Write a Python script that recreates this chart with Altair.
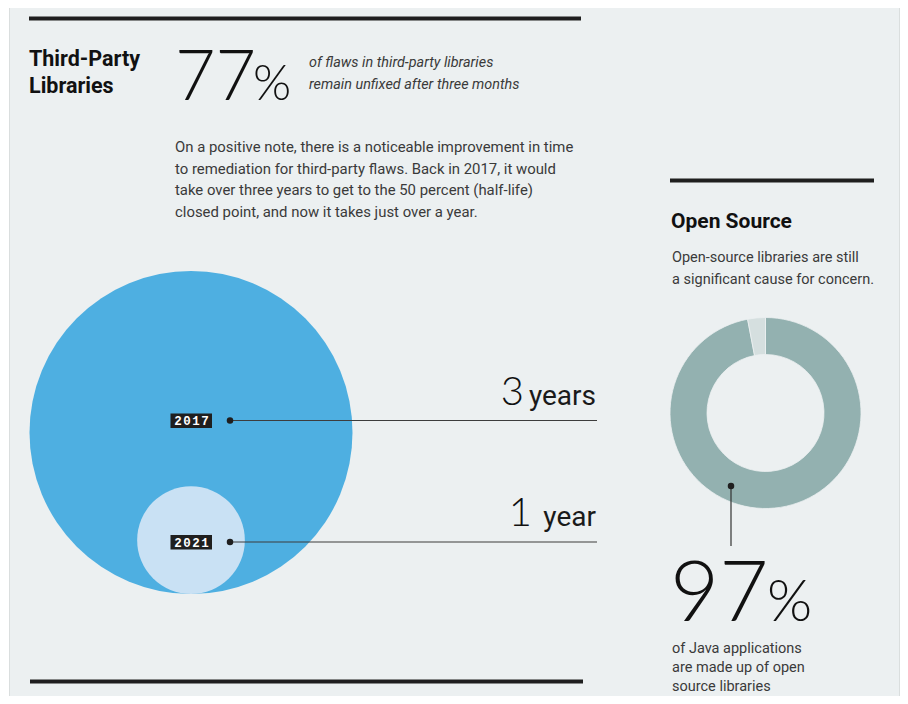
import altair as alt
import pandas as pd

# ---- data ----
years = ["2017", "2021"]
half_life_years = [3, 1]
half_life_numbers = ["3", "1"]
half_life_units = ["years", "year"]
segments = ["Open source", "Other"]
segment_pct = [97, 3]
unfixed_pct = "77"
java_pct = "97"

# ---- layout helpers (page pixel -> chart pixel) ----
M = 8
W, H = 892, 688
def X(v):
    return v - M
def Y(v):
    return v - M

BG = "#ecf0f1"
DARK = "#1f1f1f"
TEXT = "#3a3a3a"
SANS = "Roboto"
LIGHT = "Lato"

def one():
    return pd.DataFrame({"k": [0]})

def txt(s, x, y, size, weight="normal", style="normal", font=SANS, color="#111111",
        align="left", baseline="alphabetic"):
    kw = dict(align=align, baseline=baseline, font=font, fontSize=size,
              fontWeight=weight, fontStyle=style, color=color)
    return alt.Chart(pd.DataFrame({"t": [s]})).mark_text(**kw).encode(
        x=alt.value(X(x)), y=alt.value(Y(y)), text="t:N")

def hbar(x1, x2, y, w=4, color=DARK):
    return alt.Chart(one()).mark_rule(strokeWidth=w, color=color).encode(
        x=alt.value(X(x1)), x2=alt.value(X(x2)), y=alt.value(Y(y)))

def vline(x, y1, y2, w=1.2, color="#333333"):
    return alt.Chart(one()).mark_rule(strokeWidth=w, color=color).encode(
        x=alt.value(X(x)), y=alt.value(Y(y1)), y2=alt.value(Y(y2)))

def dot(x, y, size=40, color=DARK):
    return alt.Chart(one()).mark_circle(size=size, color=color, opacity=1).encode(
        x=alt.value(X(x)), y=alt.value(Y(y)))

def box(x1, x2, y1, y2, color=DARK):
    return alt.Chart(one()).mark_rect(color=color).encode(
        x=alt.value(X(x1)), x2=alt.value(X(x2)), y=alt.value(Y(y1)), y2=alt.value(Y(y2)))

layers = []

# panel background
layers.append(alt.Chart(one()).mark_rect(fill=BG, stroke="#dadede", strokeWidth=1).encode(
    x=alt.value(X(9.5)), x2=alt.value(X(899.5)), y=alt.value(Y(7.5)), y2=alt.value(H + 20)))

# ---- left section text ----
layers.append(hbar(29, 581, 18.5))
layers.append(txt("Third-Party", 29, 66, 21.5, weight="bold"))
layers.append(txt("Libraries", 29, 93, 21.5, weight="bold"))
layers.append(txt(unfixed_pct, 175, 100, 70, weight=300, font=LIGHT))
layers.append(txt("%", 253, 100, 49, weight=300, font=LIGHT))
layers.append(txt("of flaws in third-party libraries", 309, 67, 14.4, style="italic", color=TEXT))
layers.append(txt("remain unfixed after three months", 309, 89, 14.4, style="italic", color=TEXT))
para = [
    "On a positive note, there is a noticeable improvement in time",
    "to remediation for third-party flaws. Back in 2017, it would",
    "take over three years to get to the 50 percent (half-life)",
    "closed point, and now it takes just over a year.",
]
for i, line in enumerate(para):
    layers.append(txt(line, 175, 152 + i * 21.7, 14.9, color=TEXT))

# ---- bubbles: radius proportional to half-life in years ----
bub = pd.DataFrame({"year": years, "half_life": half_life_years})
layers.append(alt.Chart(bub).mark_circle(opacity=1).encode(
    x=alt.value(X(191)),
    y=alt.Y("half_life:Q", scale=alt.Scale(domain=[0, 3], range=[Y(594), Y(432.5)]), axis=None),
    size=alt.Size("half_life:Q", scale=alt.Scale(type="pow", exponent=2, domain=[0, 3], range=[0, 323 ** 2]), legend=None),
    color=alt.Color("year:N", scale=alt.Scale(domain=years, range=["#4eafe1", "#c9e1f4"]), legend=None),
    order=alt.Order("half_life:Q", sort="descending"),
))

# leader lines and labels
label_y = [420.5, 542]
for i, yr in enumerate(years):
    ly = label_y[i]
    layers.append(alt.Chart(one()).mark_rule(strokeWidth=1.2, color="#3d3d3d").encode(
        x=alt.value(X(230)), x2=alt.value(X(597)), y=alt.value(Y(ly))))
    layers.append(dot(230, ly, size=42))
    layers.append(box(170.5, 212, ly - 7, ly + 7.5))
    for j, ch in enumerate(yr):
        layers.append(txt(ch, 178 + j * 9, ly + 4.5, 12.5, weight="bold", font="Liberation Mono",
                          color="#ffffff", align="center"))

layers.append(txt(half_life_numbers[0], 524, 404.5, 40, weight=300, font=LIGHT, align="right"))
layers.append(txt(half_life_units[0], 596, 404.5, 28, font=SANS, color="#1a1a1a", align="right"))
layers.append(txt(half_life_numbers[1], 532, 526, 40, weight=300, font=LIGHT, align="right"))
layers.append(txt(half_life_units[1], 596, 526, 28, font=SANS, color="#1a1a1a", align="right"))

# ---- right section ----
layers.append(hbar(670, 874, 180.5))
layers.append(txt("Open Source", 671, 228, 21, weight="bold"))
layers.append(txt("Open-source libraries are still", 672, 262, 14.5, color=TEXT))
layers.append(txt("a significant cause for concern.", 672, 283.5, 14.5, color=TEXT))

donut = pd.DataFrame({"segment": segments, "pct": segment_pct, "ord": [0, 1]})
layers.append(alt.Chart(donut).mark_arc(outerRadius=95.5, innerRadius=58.5, stroke=BG, strokeWidth=0.8).encode(
    x=alt.value(X(765.5)), y=alt.value(Y(413)),
    theta=alt.Theta("pct:Q", stack=True),
    color=alt.Color("segment:N", scale=alt.Scale(domain=segments, range=["#93b1b0", "#d5dfdf"]), legend=None),
    order=alt.Order("ord:Q"),
))

layers.append(vline(731, 486, 546))
layers.append(dot(731, 486, size=42))
layers.append(txt(java_pct, 670, 621, 85, weight=300, font=LIGHT))
layers.append(txt("%", 767, 621, 58, weight=300, font=LIGHT))
layers.append(txt("of Java applications", 672, 652.5, 14.5, color=TEXT))
layers.append(txt("are made up of open", 672, 671.5, 14.5, color=TEXT))
layers.append(txt("source libraries", 672, 690.5, 14.5, color=TEXT))

# bottom bar
layers.append(hbar(30, 583, 681.5))

chart = alt.layer(*layers).resolve_scale(color="independent").properties(
    width=W, height=H, padding=0, autosize=alt.AutoSizeParams(type="none"),
    background="#ffffff",
).configure_view(stroke=None)

chart.save("out.html", embed_options={"renderer": "svg", "actions": False})
